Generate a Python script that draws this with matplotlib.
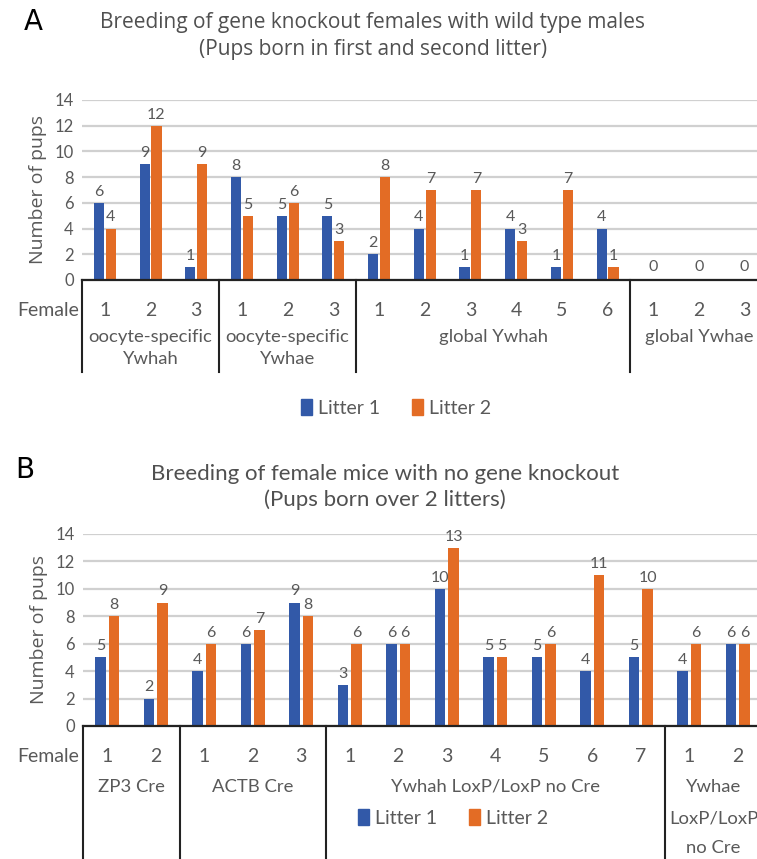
import matplotlib
matplotlib.use("Agg")
import matplotlib.pyplot as plt
from matplotlib.patches import Patch
from matplotlib.transforms import blended_transform_factory

# --- data: panel A (gene knockout females) ---
groups_a = ["oocyte-specific\nYwhah", "oocyte-specific\nYwhae", "global Ywhah", "global Ywhae"]
females_a = [[1, 2, 3], [1, 2, 3], [1, 2, 3, 4, 5, 6], [1, 2, 3]]
litter1_a = [6, 9, 1, 8, 5, 5, 2, 4, 1, 4, 1, 4, 0, 0, 0]
litter2_a = [4, 12, 9, 5, 6, 3, 8, 7, 7, 3, 7, 1, 0, 0, 0]

# --- data: panel B (no gene knockout) ---
groups_b = ["ZP3 Cre", "ACTB Cre", "Ywhah LoxP/LoxP no Cre", "Ywhae\nLoxP/LoxP\nno Cre"]
females_b = [[1, 2], [1, 2, 3], [1, 2, 3, 4, 5, 6, 7], [1, 2]]
litter1_b = [5, 2, 4, 6, 9, 3, 6, 10, 5, 5, 4, 5, 4, 6]
litter2_b = [8, 9, 6, 7, 8, 6, 6, 13, 5, 6, 11, 10, 6, 6]

series = ["Litter 1", "Litter 2"]
yticks = [0, 2, 4, 6, 8, 10, 12, 14]

BLUE = "#3259A8"
ORANGE = "#E36C25"
GREY = "#595959"
W, H = 757, 859
NARROW = ["Lato", "DejaVu Sans"]

fig = plt.figure(figsize=(W / 100, H / 100), dpi=100)


def fy(py):
    return 1 - py / H


def panel(x0, y_top, y_bot, step, l1, l2, females, groups, group_rows, fem_y, sep_bot, bw, off):
    n = len(l1)
    ax = fig.add_axes([x0 / W, fy(y_bot), (W - x0) / W, (y_bot - y_top) / H])
    ax.set_xlim(-0.5, -0.5 + (W - x0) / step)
    ax.set_ylim(0, 14)
    xs = list(range(n))
    ax.bar([x - off for x in xs], l1, width=bw, color=BLUE, zorder=3)
    ax.bar([x + off for x in xs], l2, width=bw, color=ORANGE, zorder=3)
    for x, a, b in zip(xs, l1, l2):
        if a == 0 and b == 0:
            ax.annotate("0", (x, 0), xytext=(0, 4), textcoords="offset points",
                        ha="center", va="bottom", fontsize=11.5, color=GREY, family=NARROW)
            continue
        for xx, v in ((x - off, a), (x + off, b)):
            ax.annotate(str(v), (xx, v), xytext=(0, 3), textcoords="offset points",
                        ha="center", va="bottom", fontsize=11.5, color=GREY, family=NARROW)
    ax.set_yticks(yticks)
    ax.set_xticks([])
    ax.tick_params(axis="y", length=0, labelsize=12, labelcolor=GREY, pad=6)
    for lab in ax.get_yticklabels():
        lab.set_family(NARROW)
    ax.yaxis.grid(True, color="#d0d0d0", lw=1.6, zorder=0)
    for s in ("left", "right", "top"):
        ax.spines[s].set_visible(False)
    ax.spines["bottom"].set_color("#222222")
    ax.spines["bottom"].set_linewidth(1.6)
    ax.spines["bottom"].set_zorder(4)
    ax.set_ylabel("Number of pups", fontsize=14, color=GREY, family="Open Sans", labelpad=5)

    tr = blended_transform_factory(ax.transData, fig.transFigure)
    fig.text(48 / W, fy(fem_y), "Female", ha="center", va="center",
             fontsize=14, color=GREY, family=NARROW)
    i = 0
    bounds = [-0.5]
    for fem, g in zip(females, groups):
        for f in fem:
            ax.text(i, fy(fem_y), str(f), transform=tr, ha="center", va="center",
                    fontsize=14, color=GREY, family=NARROW)
            i += 1
        mid = i - 1 - (len(fem) - 1) / 2
        for k, line in enumerate(g.split("\n")):
            ax.text(mid, fy(group_rows[k]), line, transform=tr, ha="center", va="center",
                    fontsize=13.3, color=GREY, family=NARROW)
        bounds.append(i - 0.5)
    for b in bounds[:-1]:
        ax.plot([b, b], [fy(y_bot), fy(sep_bot)], transform=tr, color="#222222",
                lw=1.5, clip_on=False)
    return ax


panel(82, 100, 280, 45.7, litter1_a, litter2_a, females_a, groups_a,
      [337, 359], 311, 372, 0.22, 0.13)
panel(83, 534, 726, 48.5, litter1_b, litter2_b, females_b, groups_b,
      [787, 818, 848], 757, 859, 0.22, 0.14)

fig.text(33 / W, fy(22), "A", fontsize=20, ha="center", va="center", color="black")
fig.text(25 / W, fy(470), "B", fontsize=20, ha="center", va="center", color="black")
fig.text(373 / W, fy(36), "Breeding of gene knockout females with wild type males\n"
         "(Pups born in first and second litter)", ha="center", va="center",
         fontsize=15, color="#505050", family="Open Sans", linespacing=1.35)
fig.text(385 / W, fy(487), "Breeding of female mice with no gene knockout\n"
         "(Pups born over 2 litters)", ha="center", va="center",
         fontsize=16, color="#505050", family=NARROW, linespacing=1.3)

handles = [Patch(color=BLUE, label=series[0]), Patch(color=ORANGE, label=series[1])]
for cx, cy in ((396, 408), (453, 818)):
    fig.legend(handles=handles, loc="center", bbox_to_anchor=(cx / W, fy(cy)), ncol=2,
               frameon=False, handlelength=0.6, handleheight=0.9, handletextpad=0.3,
               columnspacing=1.6, prop={"family": NARROW, "size": 14},
               labelcolor=GREY)

fig.savefig("out.png", dpi=100)
